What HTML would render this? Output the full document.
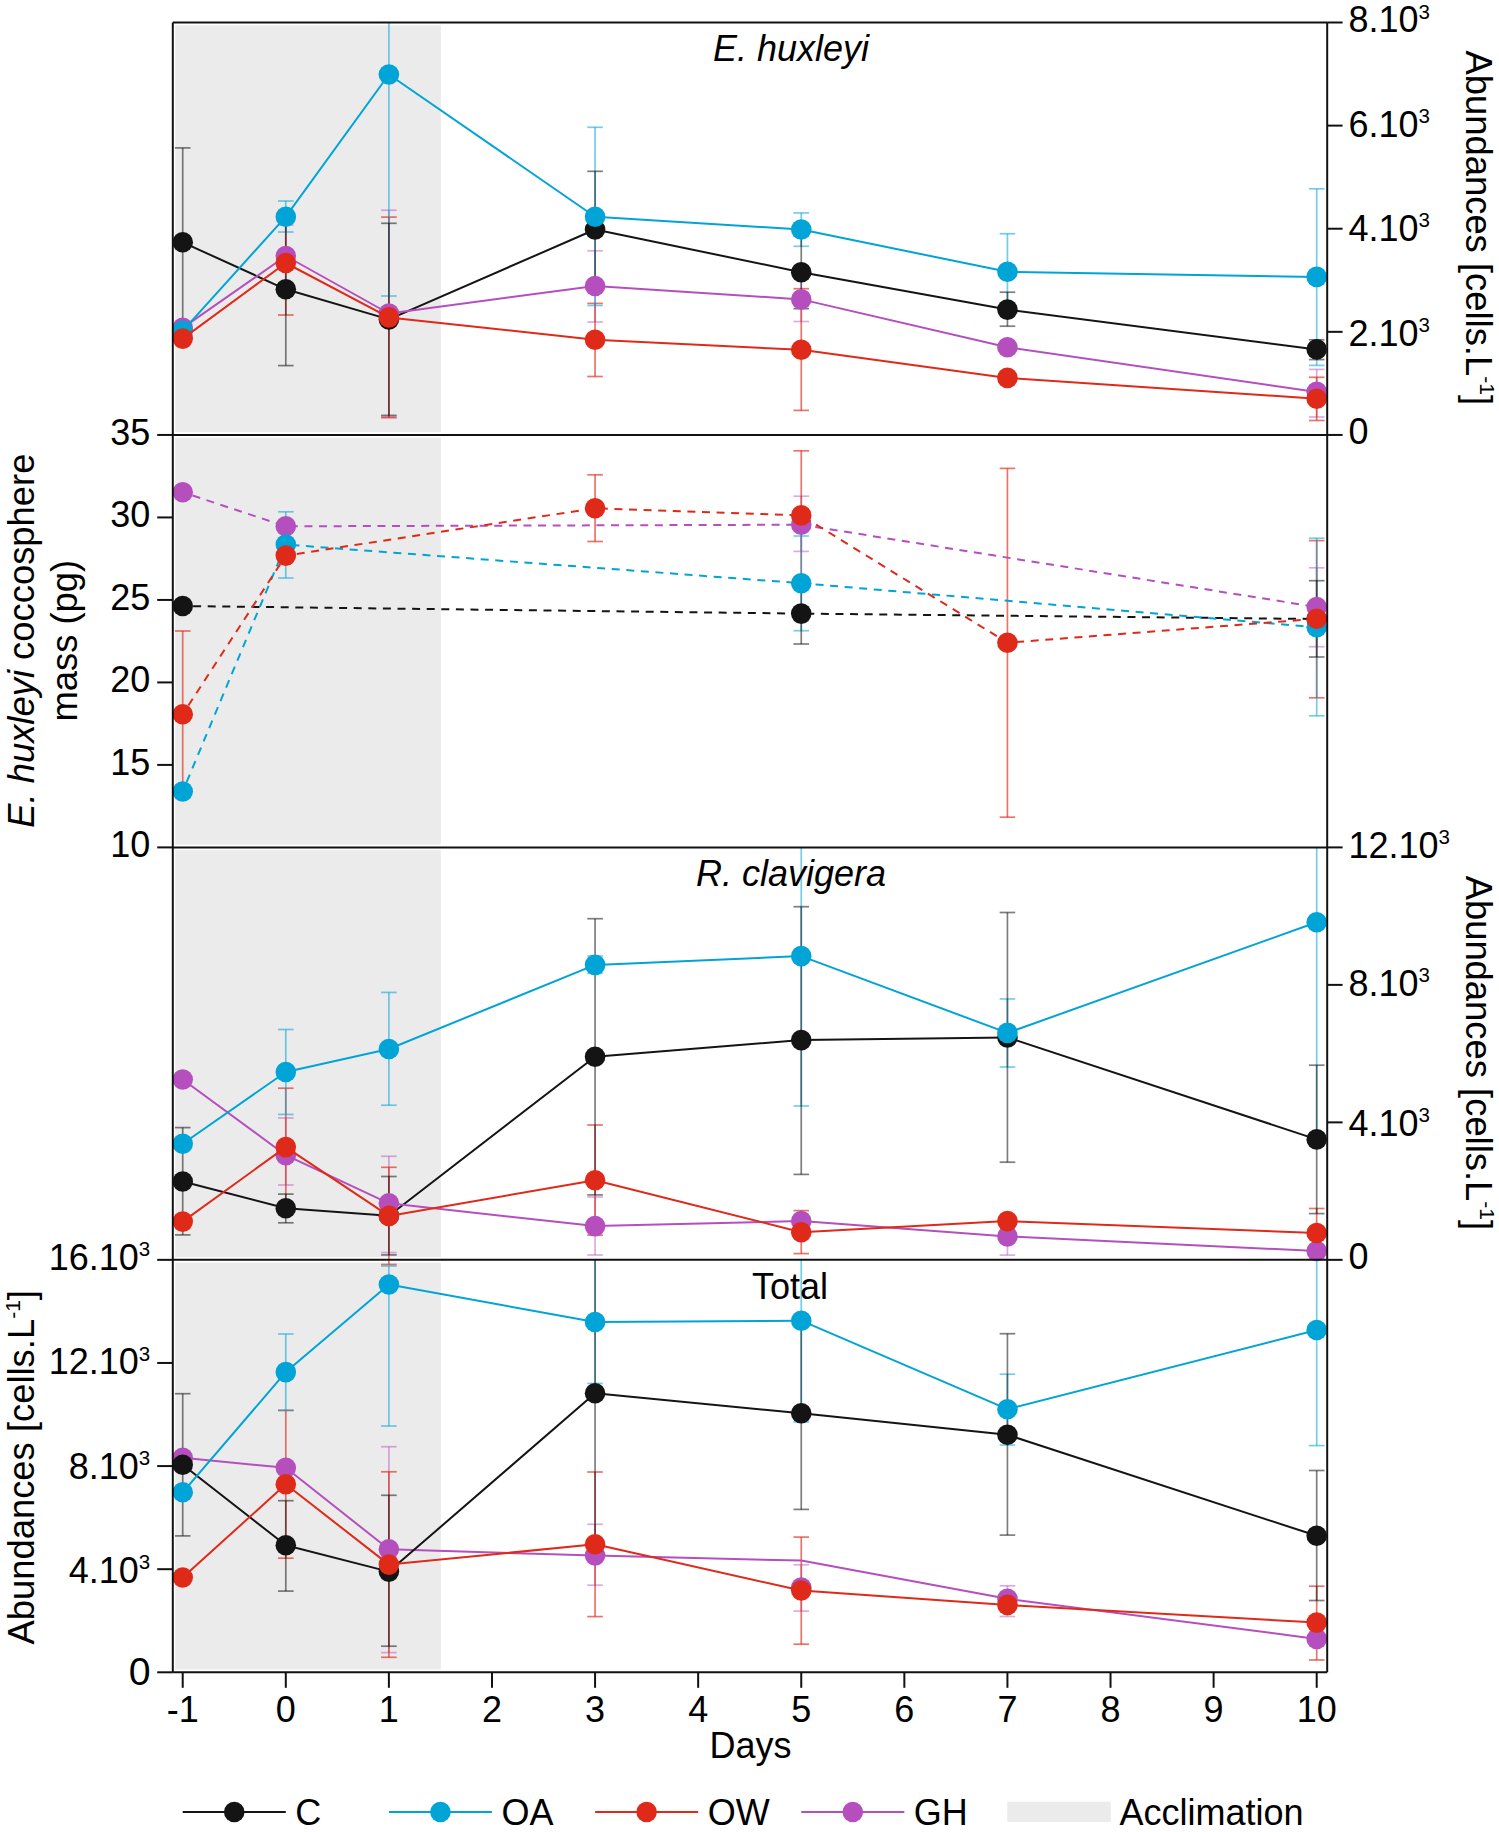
<!DOCTYPE html>
<html><head><meta charset="utf-8"><style>
html,body{margin:0;padding:0;background:#fff;width:1499px;height:1832px;overflow:hidden}
svg{display:block}
text{font-family:"Liberation Sans",sans-serif}
</style></head><body>
<svg width="1499" height="1832" viewBox="0 0 1499 1832">
<rect x="0" y="0" width="1499" height="1832" fill="#ffffff"/>
<rect x="175.2" y="25.30" width="265.70" height="406.85" fill="#ebebeb"/>
<rect x="175.2" y="437.75" width="265.70" height="406.85" fill="#ebebeb"/>
<rect x="175.2" y="850.20" width="265.70" height="406.85" fill="#ebebeb"/>
<rect x="175.2" y="1262.65" width="265.70" height="406.85" fill="#ebebeb"/>
<line x1="285.80" y1="225.00" x2="285.80" y2="287.00" stroke="#b54fbe" stroke-opacity="0.48" stroke-width="1.7"/>
<line x1="278.00" y1="225.00" x2="293.60" y2="225.00" stroke="#b54fbe" stroke-opacity="0.48" stroke-width="1.7"/>
<line x1="278.00" y1="287.00" x2="293.60" y2="287.00" stroke="#b54fbe" stroke-opacity="0.48" stroke-width="1.7"/>
<line x1="388.89" y1="210.20" x2="388.89" y2="416.80" stroke="#b54fbe" stroke-opacity="0.48" stroke-width="1.7"/>
<line x1="381.09" y1="210.20" x2="396.69" y2="210.20" stroke="#b54fbe" stroke-opacity="0.48" stroke-width="1.7"/>
<line x1="381.09" y1="416.80" x2="396.69" y2="416.80" stroke="#b54fbe" stroke-opacity="0.48" stroke-width="1.7"/>
<line x1="595.07" y1="250.80" x2="595.07" y2="322.00" stroke="#b54fbe" stroke-opacity="0.48" stroke-width="1.7"/>
<line x1="587.27" y1="250.80" x2="602.87" y2="250.80" stroke="#b54fbe" stroke-opacity="0.48" stroke-width="1.7"/>
<line x1="587.27" y1="322.00" x2="602.87" y2="322.00" stroke="#b54fbe" stroke-opacity="0.48" stroke-width="1.7"/>
<line x1="801.25" y1="277.30" x2="801.25" y2="321.50" stroke="#b54fbe" stroke-opacity="0.48" stroke-width="1.7"/>
<line x1="793.45" y1="277.30" x2="809.05" y2="277.30" stroke="#b54fbe" stroke-opacity="0.48" stroke-width="1.7"/>
<line x1="793.45" y1="321.50" x2="809.05" y2="321.50" stroke="#b54fbe" stroke-opacity="0.48" stroke-width="1.7"/>
<line x1="1316.70" y1="369.40" x2="1316.70" y2="417.00" stroke="#b54fbe" stroke-opacity="0.48" stroke-width="1.7"/>
<line x1="1308.90" y1="369.40" x2="1324.50" y2="369.40" stroke="#b54fbe" stroke-opacity="0.48" stroke-width="1.7"/>
<line x1="1308.90" y1="417.00" x2="1324.50" y2="417.00" stroke="#b54fbe" stroke-opacity="0.48" stroke-width="1.7"/>
<line x1="285.80" y1="211.00" x2="285.80" y2="315.00" stroke="#df2a19" stroke-opacity="0.65" stroke-width="1.7"/>
<line x1="278.00" y1="211.00" x2="293.60" y2="211.00" stroke="#df2a19" stroke-opacity="0.65" stroke-width="1.7"/>
<line x1="278.00" y1="315.00" x2="293.60" y2="315.00" stroke="#df2a19" stroke-opacity="0.65" stroke-width="1.7"/>
<line x1="388.89" y1="217.10" x2="388.89" y2="417.70" stroke="#df2a19" stroke-opacity="0.65" stroke-width="1.7"/>
<line x1="381.09" y1="217.10" x2="396.69" y2="217.10" stroke="#df2a19" stroke-opacity="0.65" stroke-width="1.7"/>
<line x1="381.09" y1="417.70" x2="396.69" y2="417.70" stroke="#df2a19" stroke-opacity="0.65" stroke-width="1.7"/>
<line x1="595.07" y1="303.40" x2="595.07" y2="376.50" stroke="#df2a19" stroke-opacity="0.65" stroke-width="1.7"/>
<line x1="587.27" y1="303.40" x2="602.87" y2="303.40" stroke="#df2a19" stroke-opacity="0.65" stroke-width="1.7"/>
<line x1="587.27" y1="376.50" x2="602.87" y2="376.50" stroke="#df2a19" stroke-opacity="0.65" stroke-width="1.7"/>
<line x1="801.25" y1="288.70" x2="801.25" y2="410.40" stroke="#df2a19" stroke-opacity="0.65" stroke-width="1.7"/>
<line x1="793.45" y1="288.70" x2="809.05" y2="288.70" stroke="#df2a19" stroke-opacity="0.65" stroke-width="1.7"/>
<line x1="793.45" y1="410.40" x2="809.05" y2="410.40" stroke="#df2a19" stroke-opacity="0.65" stroke-width="1.7"/>
<line x1="1316.70" y1="377.30" x2="1316.70" y2="420.50" stroke="#df2a19" stroke-opacity="0.65" stroke-width="1.7"/>
<line x1="1308.90" y1="377.30" x2="1324.50" y2="377.30" stroke="#df2a19" stroke-opacity="0.65" stroke-width="1.7"/>
<line x1="1308.90" y1="420.50" x2="1324.50" y2="420.50" stroke="#df2a19" stroke-opacity="0.65" stroke-width="1.7"/>
<line x1="285.80" y1="201.00" x2="285.80" y2="232.00" stroke="#00a4d6" stroke-opacity="0.55" stroke-width="1.7"/>
<line x1="278.00" y1="201.00" x2="293.60" y2="201.00" stroke="#00a4d6" stroke-opacity="0.55" stroke-width="1.7"/>
<line x1="278.00" y1="232.00" x2="293.60" y2="232.00" stroke="#00a4d6" stroke-opacity="0.55" stroke-width="1.7"/>
<line x1="388.89" y1="22.50" x2="388.89" y2="296.00" stroke="#00a4d6" stroke-opacity="0.55" stroke-width="1.7"/>
<line x1="381.09" y1="296.00" x2="396.69" y2="296.00" stroke="#00a4d6" stroke-opacity="0.55" stroke-width="1.7"/>
<line x1="595.07" y1="127.30" x2="595.07" y2="305.50" stroke="#00a4d6" stroke-opacity="0.55" stroke-width="1.7"/>
<line x1="587.27" y1="127.30" x2="602.87" y2="127.30" stroke="#00a4d6" stroke-opacity="0.55" stroke-width="1.7"/>
<line x1="587.27" y1="305.50" x2="602.87" y2="305.50" stroke="#00a4d6" stroke-opacity="0.55" stroke-width="1.7"/>
<line x1="801.25" y1="212.90" x2="801.25" y2="246.30" stroke="#00a4d6" stroke-opacity="0.55" stroke-width="1.7"/>
<line x1="793.45" y1="212.90" x2="809.05" y2="212.90" stroke="#00a4d6" stroke-opacity="0.55" stroke-width="1.7"/>
<line x1="793.45" y1="246.30" x2="809.05" y2="246.30" stroke="#00a4d6" stroke-opacity="0.55" stroke-width="1.7"/>
<line x1="1007.43" y1="233.70" x2="1007.43" y2="309.90" stroke="#00a4d6" stroke-opacity="0.55" stroke-width="1.7"/>
<line x1="999.63" y1="233.70" x2="1015.23" y2="233.70" stroke="#00a4d6" stroke-opacity="0.55" stroke-width="1.7"/>
<line x1="999.63" y1="309.90" x2="1015.23" y2="309.90" stroke="#00a4d6" stroke-opacity="0.55" stroke-width="1.7"/>
<line x1="1316.70" y1="188.80" x2="1316.70" y2="365.40" stroke="#00a4d6" stroke-opacity="0.55" stroke-width="1.7"/>
<line x1="1308.90" y1="188.80" x2="1324.50" y2="188.80" stroke="#00a4d6" stroke-opacity="0.55" stroke-width="1.7"/>
<line x1="1308.90" y1="365.40" x2="1324.50" y2="365.40" stroke="#00a4d6" stroke-opacity="0.55" stroke-width="1.7"/>
<line x1="182.71" y1="147.90" x2="182.71" y2="336.70" stroke="#141414" stroke-opacity="0.55" stroke-width="1.7"/>
<line x1="174.91" y1="147.90" x2="190.51" y2="147.90" stroke="#141414" stroke-opacity="0.55" stroke-width="1.7"/>
<line x1="174.91" y1="336.70" x2="190.51" y2="336.70" stroke="#141414" stroke-opacity="0.55" stroke-width="1.7"/>
<line x1="285.80" y1="212.70" x2="285.80" y2="365.60" stroke="#141414" stroke-opacity="0.55" stroke-width="1.7"/>
<line x1="278.00" y1="212.70" x2="293.60" y2="212.70" stroke="#141414" stroke-opacity="0.55" stroke-width="1.7"/>
<line x1="278.00" y1="365.60" x2="293.60" y2="365.60" stroke="#141414" stroke-opacity="0.55" stroke-width="1.7"/>
<line x1="388.89" y1="223.30" x2="388.89" y2="415.40" stroke="#141414" stroke-opacity="0.55" stroke-width="1.7"/>
<line x1="381.09" y1="223.30" x2="396.69" y2="223.30" stroke="#141414" stroke-opacity="0.55" stroke-width="1.7"/>
<line x1="381.09" y1="415.40" x2="396.69" y2="415.40" stroke="#141414" stroke-opacity="0.55" stroke-width="1.7"/>
<line x1="595.07" y1="171.30" x2="595.07" y2="287.70" stroke="#141414" stroke-opacity="0.55" stroke-width="1.7"/>
<line x1="587.27" y1="171.30" x2="602.87" y2="171.30" stroke="#141414" stroke-opacity="0.55" stroke-width="1.7"/>
<line x1="587.27" y1="287.70" x2="602.87" y2="287.70" stroke="#141414" stroke-opacity="0.55" stroke-width="1.7"/>
<line x1="801.25" y1="235.70" x2="801.25" y2="308.70" stroke="#141414" stroke-opacity="0.55" stroke-width="1.7"/>
<line x1="793.45" y1="235.70" x2="809.05" y2="235.70" stroke="#141414" stroke-opacity="0.55" stroke-width="1.7"/>
<line x1="793.45" y1="308.70" x2="809.05" y2="308.70" stroke="#141414" stroke-opacity="0.55" stroke-width="1.7"/>
<line x1="1007.43" y1="292.20" x2="1007.43" y2="326.20" stroke="#141414" stroke-opacity="0.55" stroke-width="1.7"/>
<line x1="999.63" y1="292.20" x2="1015.23" y2="292.20" stroke="#141414" stroke-opacity="0.55" stroke-width="1.7"/>
<line x1="999.63" y1="326.20" x2="1015.23" y2="326.20" stroke="#141414" stroke-opacity="0.55" stroke-width="1.7"/>
<line x1="1316.70" y1="339.80" x2="1316.70" y2="359.60" stroke="#141414" stroke-opacity="0.55" stroke-width="1.7"/>
<line x1="1308.90" y1="339.80" x2="1324.50" y2="339.80" stroke="#141414" stroke-opacity="0.55" stroke-width="1.7"/>
<line x1="1308.90" y1="359.60" x2="1324.50" y2="359.60" stroke="#141414" stroke-opacity="0.55" stroke-width="1.7"/>
<polyline points="182.71,242.30 285.80,289.30 388.89,319.40 595.07,229.50 801.25,272.20 1007.43,309.60 1316.70,349.40" fill="none" stroke="#141414" stroke-width="2.0" stroke-linejoin="round"/>
<circle cx="182.71" cy="242.30" r="10.3" fill="#141414"/>
<circle cx="285.80" cy="289.30" r="10.3" fill="#141414"/>
<circle cx="388.89" cy="319.40" r="10.3" fill="#141414"/>
<circle cx="595.07" cy="229.50" r="10.3" fill="#141414"/>
<circle cx="801.25" cy="272.20" r="10.3" fill="#141414"/>
<circle cx="1007.43" cy="309.60" r="10.3" fill="#141414"/>
<circle cx="1316.70" cy="349.40" r="10.3" fill="#141414"/>
<polyline points="182.71,327.90 285.80,256.00 388.89,313.50 595.07,286.00 801.25,299.40 1007.43,347.30 1316.70,391.90" fill="none" stroke="#b54fbe" stroke-width="2.0" stroke-linejoin="round"/>
<circle cx="182.71" cy="327.90" r="10.3" fill="#b54fbe"/>
<circle cx="285.80" cy="256.00" r="10.3" fill="#b54fbe"/>
<circle cx="388.89" cy="313.50" r="10.3" fill="#b54fbe"/>
<circle cx="595.07" cy="286.00" r="10.3" fill="#b54fbe"/>
<circle cx="801.25" cy="299.40" r="10.3" fill="#b54fbe"/>
<circle cx="1007.43" cy="347.30" r="10.3" fill="#b54fbe"/>
<circle cx="1316.70" cy="391.90" r="10.3" fill="#b54fbe"/>
<polyline points="182.71,330.90 285.80,216.70 388.89,74.50 595.07,216.70 801.25,229.50 1007.43,271.80 1316.70,276.90" fill="none" stroke="#00a4d6" stroke-width="2.0" stroke-linejoin="round"/>
<circle cx="182.71" cy="330.90" r="10.3" fill="#00a4d6"/>
<circle cx="285.80" cy="216.70" r="10.3" fill="#00a4d6"/>
<circle cx="388.89" cy="74.50" r="10.3" fill="#00a4d6"/>
<circle cx="595.07" cy="216.70" r="10.3" fill="#00a4d6"/>
<circle cx="801.25" cy="229.50" r="10.3" fill="#00a4d6"/>
<circle cx="1007.43" cy="271.80" r="10.3" fill="#00a4d6"/>
<circle cx="1316.70" cy="276.90" r="10.3" fill="#00a4d6"/>
<polyline points="182.71,338.60 285.80,263.00 388.89,317.40 595.07,339.70 801.25,349.80 1007.43,377.90 1316.70,398.70" fill="none" stroke="#df2a19" stroke-width="2.0" stroke-linejoin="round"/>
<circle cx="182.71" cy="338.60" r="10.3" fill="#df2a19"/>
<circle cx="285.80" cy="263.00" r="10.3" fill="#df2a19"/>
<circle cx="388.89" cy="317.40" r="10.3" fill="#df2a19"/>
<circle cx="595.07" cy="339.70" r="10.3" fill="#df2a19"/>
<circle cx="801.25" cy="349.80" r="10.3" fill="#df2a19"/>
<circle cx="1007.43" cy="377.90" r="10.3" fill="#df2a19"/>
<circle cx="1316.70" cy="398.70" r="10.3" fill="#df2a19"/>
<line x1="801.25" y1="496.20" x2="801.25" y2="551.40" stroke="#b54fbe" stroke-opacity="0.48" stroke-width="1.7"/>
<line x1="793.45" y1="496.20" x2="809.05" y2="496.20" stroke="#b54fbe" stroke-opacity="0.48" stroke-width="1.7"/>
<line x1="793.45" y1="551.40" x2="809.05" y2="551.40" stroke="#b54fbe" stroke-opacity="0.48" stroke-width="1.7"/>
<line x1="1316.70" y1="567.80" x2="1316.70" y2="646.70" stroke="#b54fbe" stroke-opacity="0.48" stroke-width="1.7"/>
<line x1="1308.90" y1="567.80" x2="1324.50" y2="567.80" stroke="#b54fbe" stroke-opacity="0.48" stroke-width="1.7"/>
<line x1="1308.90" y1="646.70" x2="1324.50" y2="646.70" stroke="#b54fbe" stroke-opacity="0.48" stroke-width="1.7"/>
<line x1="182.71" y1="631.00" x2="182.71" y2="797.40" stroke="#df2a19" stroke-opacity="0.65" stroke-width="1.7"/>
<line x1="174.91" y1="631.00" x2="190.51" y2="631.00" stroke="#df2a19" stroke-opacity="0.65" stroke-width="1.7"/>
<line x1="174.91" y1="797.40" x2="190.51" y2="797.40" stroke="#df2a19" stroke-opacity="0.65" stroke-width="1.7"/>
<line x1="595.07" y1="474.80" x2="595.07" y2="541.50" stroke="#df2a19" stroke-opacity="0.65" stroke-width="1.7"/>
<line x1="587.27" y1="474.80" x2="602.87" y2="474.80" stroke="#df2a19" stroke-opacity="0.65" stroke-width="1.7"/>
<line x1="587.27" y1="541.50" x2="602.87" y2="541.50" stroke="#df2a19" stroke-opacity="0.65" stroke-width="1.7"/>
<line x1="801.25" y1="450.80" x2="801.25" y2="580.00" stroke="#df2a19" stroke-opacity="0.65" stroke-width="1.7"/>
<line x1="793.45" y1="450.80" x2="809.05" y2="450.80" stroke="#df2a19" stroke-opacity="0.65" stroke-width="1.7"/>
<line x1="793.45" y1="580.00" x2="809.05" y2="580.00" stroke="#df2a19" stroke-opacity="0.65" stroke-width="1.7"/>
<line x1="1007.43" y1="468.40" x2="1007.43" y2="817.20" stroke="#df2a19" stroke-opacity="0.65" stroke-width="1.7"/>
<line x1="999.63" y1="468.40" x2="1015.23" y2="468.40" stroke="#df2a19" stroke-opacity="0.65" stroke-width="1.7"/>
<line x1="999.63" y1="817.20" x2="1015.23" y2="817.20" stroke="#df2a19" stroke-opacity="0.65" stroke-width="1.7"/>
<line x1="1316.70" y1="540.60" x2="1316.70" y2="697.80" stroke="#df2a19" stroke-opacity="0.65" stroke-width="1.7"/>
<line x1="1308.90" y1="540.60" x2="1324.50" y2="540.60" stroke="#df2a19" stroke-opacity="0.65" stroke-width="1.7"/>
<line x1="1308.90" y1="697.80" x2="1324.50" y2="697.80" stroke="#df2a19" stroke-opacity="0.65" stroke-width="1.7"/>
<line x1="285.80" y1="511.80" x2="285.80" y2="578.00" stroke="#00a4d6" stroke-opacity="0.55" stroke-width="1.7"/>
<line x1="278.00" y1="511.80" x2="293.60" y2="511.80" stroke="#00a4d6" stroke-opacity="0.55" stroke-width="1.7"/>
<line x1="278.00" y1="578.00" x2="293.60" y2="578.00" stroke="#00a4d6" stroke-opacity="0.55" stroke-width="1.7"/>
<line x1="801.25" y1="536.00" x2="801.25" y2="630.70" stroke="#00a4d6" stroke-opacity="0.55" stroke-width="1.7"/>
<line x1="793.45" y1="536.00" x2="809.05" y2="536.00" stroke="#00a4d6" stroke-opacity="0.55" stroke-width="1.7"/>
<line x1="793.45" y1="630.70" x2="809.05" y2="630.70" stroke="#00a4d6" stroke-opacity="0.55" stroke-width="1.7"/>
<line x1="1316.70" y1="538.20" x2="1316.70" y2="715.80" stroke="#00a4d6" stroke-opacity="0.55" stroke-width="1.7"/>
<line x1="1308.90" y1="538.20" x2="1324.50" y2="538.20" stroke="#00a4d6" stroke-opacity="0.55" stroke-width="1.7"/>
<line x1="1308.90" y1="715.80" x2="1324.50" y2="715.80" stroke="#00a4d6" stroke-opacity="0.55" stroke-width="1.7"/>
<line x1="801.25" y1="583.20" x2="801.25" y2="644.00" stroke="#141414" stroke-opacity="0.55" stroke-width="1.7"/>
<line x1="793.45" y1="583.20" x2="809.05" y2="583.20" stroke="#141414" stroke-opacity="0.55" stroke-width="1.7"/>
<line x1="793.45" y1="644.00" x2="809.05" y2="644.00" stroke="#141414" stroke-opacity="0.55" stroke-width="1.7"/>
<line x1="1316.70" y1="580.70" x2="1316.70" y2="657.00" stroke="#141414" stroke-opacity="0.55" stroke-width="1.7"/>
<line x1="1308.90" y1="580.70" x2="1324.50" y2="580.70" stroke="#141414" stroke-opacity="0.55" stroke-width="1.7"/>
<line x1="1308.90" y1="657.00" x2="1324.50" y2="657.00" stroke="#141414" stroke-opacity="0.55" stroke-width="1.7"/>
<polyline points="182.71,606.00 801.25,613.60 1316.70,619.00" fill="none" stroke="#141414" stroke-width="2.0" stroke-linejoin="round" stroke-dasharray="8 6.6" stroke-dashoffset="4.2"/>
<circle cx="182.71" cy="606.00" r="10.3" fill="#141414"/>
<circle cx="801.25" cy="613.60" r="10.3" fill="#141414"/>
<circle cx="1316.70" cy="619.00" r="10.3" fill="#141414"/>
<polyline points="182.71,492.30 285.80,526.30 801.25,524.70 1316.70,607.00" fill="none" stroke="#b54fbe" stroke-width="2.0" stroke-linejoin="round" stroke-dasharray="8 6.6" stroke-dashoffset="4.2"/>
<circle cx="182.71" cy="492.30" r="10.3" fill="#b54fbe"/>
<circle cx="285.80" cy="526.30" r="10.3" fill="#b54fbe"/>
<circle cx="801.25" cy="524.70" r="10.3" fill="#b54fbe"/>
<circle cx="1316.70" cy="607.00" r="10.3" fill="#b54fbe"/>
<polyline points="182.71,791.50 285.80,544.60 801.25,583.20 1316.70,627.30" fill="none" stroke="#00a4d6" stroke-width="2.0" stroke-linejoin="round" stroke-dasharray="8 6.6" stroke-dashoffset="4.2"/>
<circle cx="182.71" cy="791.50" r="10.3" fill="#00a4d6"/>
<circle cx="285.80" cy="544.60" r="10.3" fill="#00a4d6"/>
<circle cx="801.25" cy="583.20" r="10.3" fill="#00a4d6"/>
<circle cx="1316.70" cy="627.30" r="10.3" fill="#00a4d6"/>
<polyline points="182.71,714.20 285.80,555.60 595.07,508.20 801.25,515.40 1007.43,642.70 1316.70,618.80" fill="none" stroke="#df2a19" stroke-width="2.0" stroke-linejoin="round" stroke-dasharray="8 6.6" stroke-dashoffset="4.2"/>
<circle cx="182.71" cy="714.20" r="10.3" fill="#df2a19"/>
<circle cx="285.80" cy="555.60" r="10.3" fill="#df2a19"/>
<circle cx="595.07" cy="508.20" r="10.3" fill="#df2a19"/>
<circle cx="801.25" cy="515.40" r="10.3" fill="#df2a19"/>
<circle cx="1007.43" cy="642.70" r="10.3" fill="#df2a19"/>
<circle cx="1316.70" cy="618.80" r="10.3" fill="#df2a19"/>
<line x1="285.80" y1="1118.00" x2="285.80" y2="1185.00" stroke="#b54fbe" stroke-opacity="0.48" stroke-width="1.7"/>
<line x1="278.00" y1="1118.00" x2="293.60" y2="1118.00" stroke="#b54fbe" stroke-opacity="0.48" stroke-width="1.7"/>
<line x1="278.00" y1="1185.00" x2="293.60" y2="1185.00" stroke="#b54fbe" stroke-opacity="0.48" stroke-width="1.7"/>
<line x1="388.89" y1="1156.30" x2="388.89" y2="1252.60" stroke="#b54fbe" stroke-opacity="0.48" stroke-width="1.7"/>
<line x1="381.09" y1="1156.30" x2="396.69" y2="1156.30" stroke="#b54fbe" stroke-opacity="0.48" stroke-width="1.7"/>
<line x1="381.09" y1="1252.60" x2="396.69" y2="1252.60" stroke="#b54fbe" stroke-opacity="0.48" stroke-width="1.7"/>
<line x1="595.07" y1="1197.00" x2="595.07" y2="1255.00" stroke="#b54fbe" stroke-opacity="0.48" stroke-width="1.7"/>
<line x1="587.27" y1="1197.00" x2="602.87" y2="1197.00" stroke="#b54fbe" stroke-opacity="0.48" stroke-width="1.7"/>
<line x1="587.27" y1="1255.00" x2="602.87" y2="1255.00" stroke="#b54fbe" stroke-opacity="0.48" stroke-width="1.7"/>
<line x1="1007.43" y1="1217.70" x2="1007.43" y2="1255.10" stroke="#b54fbe" stroke-opacity="0.48" stroke-width="1.7"/>
<line x1="999.63" y1="1217.70" x2="1015.23" y2="1217.70" stroke="#b54fbe" stroke-opacity="0.48" stroke-width="1.7"/>
<line x1="999.63" y1="1255.10" x2="1015.23" y2="1255.10" stroke="#b54fbe" stroke-opacity="0.48" stroke-width="1.7"/>
<line x1="285.80" y1="1088.20" x2="285.80" y2="1206.00" stroke="#df2a19" stroke-opacity="0.65" stroke-width="1.7"/>
<line x1="278.00" y1="1088.20" x2="293.60" y2="1088.20" stroke="#df2a19" stroke-opacity="0.65" stroke-width="1.7"/>
<line x1="278.00" y1="1206.00" x2="293.60" y2="1206.00" stroke="#df2a19" stroke-opacity="0.65" stroke-width="1.7"/>
<line x1="388.89" y1="1167.30" x2="388.89" y2="1264.50" stroke="#df2a19" stroke-opacity="0.65" stroke-width="1.7"/>
<line x1="381.09" y1="1167.30" x2="396.69" y2="1167.30" stroke="#df2a19" stroke-opacity="0.65" stroke-width="1.7"/>
<line x1="381.09" y1="1264.50" x2="396.69" y2="1264.50" stroke="#df2a19" stroke-opacity="0.65" stroke-width="1.7"/>
<line x1="595.07" y1="1125.00" x2="595.07" y2="1235.20" stroke="#df2a19" stroke-opacity="0.65" stroke-width="1.7"/>
<line x1="587.27" y1="1125.00" x2="602.87" y2="1125.00" stroke="#df2a19" stroke-opacity="0.65" stroke-width="1.7"/>
<line x1="587.27" y1="1235.20" x2="602.87" y2="1235.20" stroke="#df2a19" stroke-opacity="0.65" stroke-width="1.7"/>
<line x1="801.25" y1="1210.60" x2="801.25" y2="1253.60" stroke="#df2a19" stroke-opacity="0.65" stroke-width="1.7"/>
<line x1="793.45" y1="1210.60" x2="809.05" y2="1210.60" stroke="#df2a19" stroke-opacity="0.65" stroke-width="1.7"/>
<line x1="793.45" y1="1253.60" x2="809.05" y2="1253.60" stroke="#df2a19" stroke-opacity="0.65" stroke-width="1.7"/>
<line x1="1316.70" y1="1208.50" x2="1316.70" y2="1257.50" stroke="#df2a19" stroke-opacity="0.65" stroke-width="1.7"/>
<line x1="1308.90" y1="1208.50" x2="1324.50" y2="1208.50" stroke="#df2a19" stroke-opacity="0.65" stroke-width="1.7"/>
<line x1="1308.90" y1="1257.50" x2="1324.50" y2="1257.50" stroke="#df2a19" stroke-opacity="0.65" stroke-width="1.7"/>
<line x1="285.80" y1="1029.50" x2="285.80" y2="1114.40" stroke="#00a4d6" stroke-opacity="0.55" stroke-width="1.7"/>
<line x1="278.00" y1="1029.50" x2="293.60" y2="1029.50" stroke="#00a4d6" stroke-opacity="0.55" stroke-width="1.7"/>
<line x1="278.00" y1="1114.40" x2="293.60" y2="1114.40" stroke="#00a4d6" stroke-opacity="0.55" stroke-width="1.7"/>
<line x1="388.89" y1="992.40" x2="388.89" y2="1105.20" stroke="#00a4d6" stroke-opacity="0.55" stroke-width="1.7"/>
<line x1="381.09" y1="992.40" x2="396.69" y2="992.40" stroke="#00a4d6" stroke-opacity="0.55" stroke-width="1.7"/>
<line x1="381.09" y1="1105.20" x2="396.69" y2="1105.20" stroke="#00a4d6" stroke-opacity="0.55" stroke-width="1.7"/>
<line x1="595.07" y1="956.00" x2="595.07" y2="973.40" stroke="#00a4d6" stroke-opacity="0.55" stroke-width="1.7"/>
<line x1="587.27" y1="956.00" x2="602.87" y2="956.00" stroke="#00a4d6" stroke-opacity="0.55" stroke-width="1.7"/>
<line x1="587.27" y1="973.40" x2="602.87" y2="973.40" stroke="#00a4d6" stroke-opacity="0.55" stroke-width="1.7"/>
<line x1="801.25" y1="847.40" x2="801.25" y2="1106.00" stroke="#00a4d6" stroke-opacity="0.55" stroke-width="1.7"/>
<line x1="793.45" y1="1106.00" x2="809.05" y2="1106.00" stroke="#00a4d6" stroke-opacity="0.55" stroke-width="1.7"/>
<line x1="1007.43" y1="998.90" x2="1007.43" y2="1067.00" stroke="#00a4d6" stroke-opacity="0.55" stroke-width="1.7"/>
<line x1="999.63" y1="998.90" x2="1015.23" y2="998.90" stroke="#00a4d6" stroke-opacity="0.55" stroke-width="1.7"/>
<line x1="999.63" y1="1067.00" x2="1015.23" y2="1067.00" stroke="#00a4d6" stroke-opacity="0.55" stroke-width="1.7"/>
<line x1="1316.70" y1="847.40" x2="1316.70" y2="1138.00" stroke="#00a4d6" stroke-opacity="0.55" stroke-width="1.7"/>
<line x1="1308.90" y1="1138.00" x2="1324.50" y2="1138.00" stroke="#00a4d6" stroke-opacity="0.55" stroke-width="1.7"/>
<line x1="182.71" y1="1127.60" x2="182.71" y2="1234.90" stroke="#141414" stroke-opacity="0.55" stroke-width="1.7"/>
<line x1="174.91" y1="1127.60" x2="190.51" y2="1127.60" stroke="#141414" stroke-opacity="0.55" stroke-width="1.7"/>
<line x1="174.91" y1="1234.90" x2="190.51" y2="1234.90" stroke="#141414" stroke-opacity="0.55" stroke-width="1.7"/>
<line x1="285.80" y1="1194.10" x2="285.80" y2="1222.80" stroke="#141414" stroke-opacity="0.55" stroke-width="1.7"/>
<line x1="278.00" y1="1194.10" x2="293.60" y2="1194.10" stroke="#141414" stroke-opacity="0.55" stroke-width="1.7"/>
<line x1="278.00" y1="1222.80" x2="293.60" y2="1222.80" stroke="#141414" stroke-opacity="0.55" stroke-width="1.7"/>
<line x1="388.89" y1="1176.50" x2="388.89" y2="1254.90" stroke="#141414" stroke-opacity="0.55" stroke-width="1.7"/>
<line x1="381.09" y1="1176.50" x2="396.69" y2="1176.50" stroke="#141414" stroke-opacity="0.55" stroke-width="1.7"/>
<line x1="381.09" y1="1254.90" x2="396.69" y2="1254.90" stroke="#141414" stroke-opacity="0.55" stroke-width="1.7"/>
<line x1="595.07" y1="918.70" x2="595.07" y2="1194.90" stroke="#141414" stroke-opacity="0.55" stroke-width="1.7"/>
<line x1="587.27" y1="918.70" x2="602.87" y2="918.70" stroke="#141414" stroke-opacity="0.55" stroke-width="1.7"/>
<line x1="587.27" y1="1194.90" x2="602.87" y2="1194.90" stroke="#141414" stroke-opacity="0.55" stroke-width="1.7"/>
<line x1="801.25" y1="906.70" x2="801.25" y2="1174.40" stroke="#141414" stroke-opacity="0.55" stroke-width="1.7"/>
<line x1="793.45" y1="906.70" x2="809.05" y2="906.70" stroke="#141414" stroke-opacity="0.55" stroke-width="1.7"/>
<line x1="793.45" y1="1174.40" x2="809.05" y2="1174.40" stroke="#141414" stroke-opacity="0.55" stroke-width="1.7"/>
<line x1="1007.43" y1="912.50" x2="1007.43" y2="1162.20" stroke="#141414" stroke-opacity="0.55" stroke-width="1.7"/>
<line x1="999.63" y1="912.50" x2="1015.23" y2="912.50" stroke="#141414" stroke-opacity="0.55" stroke-width="1.7"/>
<line x1="999.63" y1="1162.20" x2="1015.23" y2="1162.20" stroke="#141414" stroke-opacity="0.55" stroke-width="1.7"/>
<line x1="1316.70" y1="1065.20" x2="1316.70" y2="1213.60" stroke="#141414" stroke-opacity="0.55" stroke-width="1.7"/>
<line x1="1308.90" y1="1065.20" x2="1324.50" y2="1065.20" stroke="#141414" stroke-opacity="0.55" stroke-width="1.7"/>
<line x1="1308.90" y1="1213.60" x2="1324.50" y2="1213.60" stroke="#141414" stroke-opacity="0.55" stroke-width="1.7"/>
<polyline points="182.71,1181.50 285.80,1208.30 388.89,1215.70 595.07,1056.70 801.25,1040.10 1007.43,1037.40 1316.70,1139.40" fill="none" stroke="#141414" stroke-width="2.0" stroke-linejoin="round"/>
<circle cx="182.71" cy="1181.50" r="10.3" fill="#141414"/>
<circle cx="285.80" cy="1208.30" r="10.3" fill="#141414"/>
<circle cx="388.89" cy="1215.70" r="10.3" fill="#141414"/>
<circle cx="595.07" cy="1056.70" r="10.3" fill="#141414"/>
<circle cx="801.25" cy="1040.10" r="10.3" fill="#141414"/>
<circle cx="1007.43" cy="1037.40" r="10.3" fill="#141414"/>
<circle cx="1316.70" cy="1139.40" r="10.3" fill="#141414"/>
<polyline points="182.71,1079.50 285.80,1155.20 388.89,1203.30 595.07,1226.10 801.25,1221.00 1007.43,1236.40 1316.70,1251.00" fill="none" stroke="#b54fbe" stroke-width="2.0" stroke-linejoin="round"/>
<circle cx="182.71" cy="1079.50" r="10.3" fill="#b54fbe"/>
<circle cx="285.80" cy="1155.20" r="10.3" fill="#b54fbe"/>
<circle cx="388.89" cy="1203.30" r="10.3" fill="#b54fbe"/>
<circle cx="595.07" cy="1226.10" r="10.3" fill="#b54fbe"/>
<circle cx="801.25" cy="1221.00" r="10.3" fill="#b54fbe"/>
<circle cx="1007.43" cy="1236.40" r="10.3" fill="#b54fbe"/>
<circle cx="1316.70" cy="1251.00" r="10.3" fill="#b54fbe"/>
<polyline points="182.71,1143.70 285.80,1072.00 388.89,1049.00 595.07,964.90 801.25,956.10 1007.43,1032.90 1316.70,922.30" fill="none" stroke="#00a4d6" stroke-width="2.0" stroke-linejoin="round"/>
<circle cx="182.71" cy="1143.70" r="10.3" fill="#00a4d6"/>
<circle cx="285.80" cy="1072.00" r="10.3" fill="#00a4d6"/>
<circle cx="388.89" cy="1049.00" r="10.3" fill="#00a4d6"/>
<circle cx="595.07" cy="964.90" r="10.3" fill="#00a4d6"/>
<circle cx="801.25" cy="956.10" r="10.3" fill="#00a4d6"/>
<circle cx="1007.43" cy="1032.90" r="10.3" fill="#00a4d6"/>
<circle cx="1316.70" cy="922.30" r="10.3" fill="#00a4d6"/>
<polyline points="182.71,1221.60 285.80,1147.10 388.89,1215.90 595.07,1180.20 801.25,1232.20 1007.43,1221.10 1316.70,1233.00" fill="none" stroke="#df2a19" stroke-width="2.0" stroke-linejoin="round"/>
<circle cx="182.71" cy="1221.60" r="10.3" fill="#df2a19"/>
<circle cx="285.80" cy="1147.10" r="10.3" fill="#df2a19"/>
<circle cx="388.89" cy="1215.90" r="10.3" fill="#df2a19"/>
<circle cx="595.07" cy="1180.20" r="10.3" fill="#df2a19"/>
<circle cx="801.25" cy="1232.20" r="10.3" fill="#df2a19"/>
<circle cx="1007.43" cy="1221.10" r="10.3" fill="#df2a19"/>
<circle cx="1316.70" cy="1233.00" r="10.3" fill="#df2a19"/>
<line x1="388.89" y1="1446.70" x2="388.89" y2="1652.60" stroke="#b54fbe" stroke-opacity="0.48" stroke-width="1.7"/>
<line x1="381.09" y1="1446.70" x2="396.69" y2="1446.70" stroke="#b54fbe" stroke-opacity="0.48" stroke-width="1.7"/>
<line x1="381.09" y1="1652.60" x2="396.69" y2="1652.60" stroke="#b54fbe" stroke-opacity="0.48" stroke-width="1.7"/>
<line x1="595.07" y1="1524.30" x2="595.07" y2="1585.20" stroke="#b54fbe" stroke-opacity="0.48" stroke-width="1.7"/>
<line x1="587.27" y1="1524.30" x2="602.87" y2="1524.30" stroke="#b54fbe" stroke-opacity="0.48" stroke-width="1.7"/>
<line x1="587.27" y1="1585.20" x2="602.87" y2="1585.20" stroke="#b54fbe" stroke-opacity="0.48" stroke-width="1.7"/>
<line x1="801.25" y1="1564.80" x2="801.25" y2="1611.10" stroke="#b54fbe" stroke-opacity="0.48" stroke-width="1.7"/>
<line x1="793.45" y1="1564.80" x2="809.05" y2="1564.80" stroke="#b54fbe" stroke-opacity="0.48" stroke-width="1.7"/>
<line x1="793.45" y1="1611.10" x2="809.05" y2="1611.10" stroke="#b54fbe" stroke-opacity="0.48" stroke-width="1.7"/>
<line x1="1007.43" y1="1585.80" x2="1007.43" y2="1616.50" stroke="#b54fbe" stroke-opacity="0.48" stroke-width="1.7"/>
<line x1="999.63" y1="1585.80" x2="1015.23" y2="1585.80" stroke="#b54fbe" stroke-opacity="0.48" stroke-width="1.7"/>
<line x1="999.63" y1="1616.50" x2="1015.23" y2="1616.50" stroke="#b54fbe" stroke-opacity="0.48" stroke-width="1.7"/>
<line x1="285.80" y1="1410.40" x2="285.80" y2="1558.20" stroke="#df2a19" stroke-opacity="0.65" stroke-width="1.7"/>
<line x1="278.00" y1="1410.40" x2="293.60" y2="1410.40" stroke="#df2a19" stroke-opacity="0.65" stroke-width="1.7"/>
<line x1="278.00" y1="1558.20" x2="293.60" y2="1558.20" stroke="#df2a19" stroke-opacity="0.65" stroke-width="1.7"/>
<line x1="388.89" y1="1471.80" x2="388.89" y2="1657.30" stroke="#df2a19" stroke-opacity="0.65" stroke-width="1.7"/>
<line x1="381.09" y1="1471.80" x2="396.69" y2="1471.80" stroke="#df2a19" stroke-opacity="0.65" stroke-width="1.7"/>
<line x1="381.09" y1="1657.30" x2="396.69" y2="1657.30" stroke="#df2a19" stroke-opacity="0.65" stroke-width="1.7"/>
<line x1="595.07" y1="1472.00" x2="595.07" y2="1616.60" stroke="#df2a19" stroke-opacity="0.65" stroke-width="1.7"/>
<line x1="587.27" y1="1472.00" x2="602.87" y2="1472.00" stroke="#df2a19" stroke-opacity="0.65" stroke-width="1.7"/>
<line x1="587.27" y1="1616.60" x2="602.87" y2="1616.60" stroke="#df2a19" stroke-opacity="0.65" stroke-width="1.7"/>
<line x1="801.25" y1="1537.10" x2="801.25" y2="1644.20" stroke="#df2a19" stroke-opacity="0.65" stroke-width="1.7"/>
<line x1="793.45" y1="1537.10" x2="809.05" y2="1537.10" stroke="#df2a19" stroke-opacity="0.65" stroke-width="1.7"/>
<line x1="793.45" y1="1644.20" x2="809.05" y2="1644.20" stroke="#df2a19" stroke-opacity="0.65" stroke-width="1.7"/>
<line x1="1316.70" y1="1586.20" x2="1316.70" y2="1660.00" stroke="#df2a19" stroke-opacity="0.65" stroke-width="1.7"/>
<line x1="1308.90" y1="1586.20" x2="1324.50" y2="1586.20" stroke="#df2a19" stroke-opacity="0.65" stroke-width="1.7"/>
<line x1="1308.90" y1="1660.00" x2="1324.50" y2="1660.00" stroke="#df2a19" stroke-opacity="0.65" stroke-width="1.7"/>
<line x1="285.80" y1="1334.00" x2="285.80" y2="1410.30" stroke="#00a4d6" stroke-opacity="0.55" stroke-width="1.7"/>
<line x1="278.00" y1="1334.00" x2="293.60" y2="1334.00" stroke="#00a4d6" stroke-opacity="0.55" stroke-width="1.7"/>
<line x1="278.00" y1="1410.30" x2="293.60" y2="1410.30" stroke="#00a4d6" stroke-opacity="0.55" stroke-width="1.7"/>
<line x1="388.89" y1="1266.00" x2="388.89" y2="1426.00" stroke="#00a4d6" stroke-opacity="0.55" stroke-width="1.7"/>
<line x1="381.09" y1="1266.00" x2="396.69" y2="1266.00" stroke="#00a4d6" stroke-opacity="0.55" stroke-width="1.7"/>
<line x1="381.09" y1="1426.00" x2="396.69" y2="1426.00" stroke="#00a4d6" stroke-opacity="0.55" stroke-width="1.7"/>
<line x1="595.07" y1="1260.60" x2="595.07" y2="1383.40" stroke="#00a4d6" stroke-opacity="0.55" stroke-width="1.7"/>
<line x1="587.27" y1="1383.40" x2="602.87" y2="1383.40" stroke="#00a4d6" stroke-opacity="0.55" stroke-width="1.7"/>
<line x1="801.25" y1="1259.85" x2="801.25" y2="1422.00" stroke="#00a4d6" stroke-opacity="0.55" stroke-width="1.7"/>
<line x1="793.45" y1="1422.00" x2="809.05" y2="1422.00" stroke="#00a4d6" stroke-opacity="0.55" stroke-width="1.7"/>
<line x1="1007.43" y1="1374.20" x2="1007.43" y2="1445.00" stroke="#00a4d6" stroke-opacity="0.55" stroke-width="1.7"/>
<line x1="999.63" y1="1374.20" x2="1015.23" y2="1374.20" stroke="#00a4d6" stroke-opacity="0.55" stroke-width="1.7"/>
<line x1="999.63" y1="1445.00" x2="1015.23" y2="1445.00" stroke="#00a4d6" stroke-opacity="0.55" stroke-width="1.7"/>
<line x1="1316.70" y1="1259.85" x2="1316.70" y2="1445.60" stroke="#00a4d6" stroke-opacity="0.55" stroke-width="1.7"/>
<line x1="1308.90" y1="1445.60" x2="1324.50" y2="1445.60" stroke="#00a4d6" stroke-opacity="0.55" stroke-width="1.7"/>
<line x1="182.71" y1="1393.70" x2="182.71" y2="1535.90" stroke="#141414" stroke-opacity="0.55" stroke-width="1.7"/>
<line x1="174.91" y1="1393.70" x2="190.51" y2="1393.70" stroke="#141414" stroke-opacity="0.55" stroke-width="1.7"/>
<line x1="174.91" y1="1535.90" x2="190.51" y2="1535.90" stroke="#141414" stroke-opacity="0.55" stroke-width="1.7"/>
<line x1="285.80" y1="1500.70" x2="285.80" y2="1591.10" stroke="#141414" stroke-opacity="0.55" stroke-width="1.7"/>
<line x1="278.00" y1="1500.70" x2="293.60" y2="1500.70" stroke="#141414" stroke-opacity="0.55" stroke-width="1.7"/>
<line x1="278.00" y1="1591.10" x2="293.60" y2="1591.10" stroke="#141414" stroke-opacity="0.55" stroke-width="1.7"/>
<line x1="388.89" y1="1495.30" x2="388.89" y2="1646.20" stroke="#141414" stroke-opacity="0.55" stroke-width="1.7"/>
<line x1="381.09" y1="1495.30" x2="396.69" y2="1495.30" stroke="#141414" stroke-opacity="0.55" stroke-width="1.7"/>
<line x1="381.09" y1="1646.20" x2="396.69" y2="1646.20" stroke="#141414" stroke-opacity="0.55" stroke-width="1.7"/>
<line x1="595.07" y1="1259.85" x2="595.07" y2="1545.00" stroke="#141414" stroke-opacity="0.55" stroke-width="1.7"/>
<line x1="587.27" y1="1545.00" x2="602.87" y2="1545.00" stroke="#141414" stroke-opacity="0.55" stroke-width="1.7"/>
<line x1="801.25" y1="1317.00" x2="801.25" y2="1509.40" stroke="#141414" stroke-opacity="0.55" stroke-width="1.7"/>
<line x1="793.45" y1="1317.00" x2="809.05" y2="1317.00" stroke="#141414" stroke-opacity="0.55" stroke-width="1.7"/>
<line x1="793.45" y1="1509.40" x2="809.05" y2="1509.40" stroke="#141414" stroke-opacity="0.55" stroke-width="1.7"/>
<line x1="1007.43" y1="1333.70" x2="1007.43" y2="1535.10" stroke="#141414" stroke-opacity="0.55" stroke-width="1.7"/>
<line x1="999.63" y1="1333.70" x2="1015.23" y2="1333.70" stroke="#141414" stroke-opacity="0.55" stroke-width="1.7"/>
<line x1="999.63" y1="1535.10" x2="1015.23" y2="1535.10" stroke="#141414" stroke-opacity="0.55" stroke-width="1.7"/>
<line x1="1316.70" y1="1470.50" x2="1316.70" y2="1600.50" stroke="#141414" stroke-opacity="0.55" stroke-width="1.7"/>
<line x1="1308.90" y1="1470.50" x2="1324.50" y2="1470.50" stroke="#141414" stroke-opacity="0.55" stroke-width="1.7"/>
<line x1="1308.90" y1="1600.50" x2="1324.50" y2="1600.50" stroke="#141414" stroke-opacity="0.55" stroke-width="1.7"/>
<polyline points="182.71,1457.70 285.80,1467.80 388.89,1549.30 595.07,1555.50 801.25,1560.60 1007.43,1598.80 1316.70,1638.90" fill="none" stroke="#b54fbe" stroke-width="2.0" stroke-linejoin="round"/>
<circle cx="182.71" cy="1457.70" r="10.3" fill="#b54fbe"/>
<circle cx="285.80" cy="1467.80" r="10.3" fill="#b54fbe"/>
<circle cx="388.89" cy="1549.30" r="10.3" fill="#b54fbe"/>
<circle cx="595.07" cy="1555.50" r="10.3" fill="#b54fbe"/>
<circle cx="801.25" cy="1587.50" r="10.3" fill="#b54fbe"/>
<circle cx="1007.43" cy="1598.80" r="10.3" fill="#b54fbe"/>
<circle cx="1316.70" cy="1638.90" r="10.3" fill="#b54fbe"/>
<polyline points="182.71,1464.80 285.80,1545.30 388.89,1571.60 595.07,1393.30 801.25,1413.30 1007.43,1434.80 1316.70,1535.80" fill="none" stroke="#141414" stroke-width="2.0" stroke-linejoin="round"/>
<circle cx="182.71" cy="1464.80" r="10.3" fill="#141414"/>
<circle cx="285.80" cy="1545.30" r="10.3" fill="#141414"/>
<circle cx="388.89" cy="1571.60" r="10.3" fill="#141414"/>
<circle cx="595.07" cy="1393.30" r="10.3" fill="#141414"/>
<circle cx="801.25" cy="1413.30" r="10.3" fill="#141414"/>
<circle cx="1007.43" cy="1434.80" r="10.3" fill="#141414"/>
<circle cx="1316.70" cy="1535.80" r="10.3" fill="#141414"/>
<polyline points="182.71,1492.30 285.80,1372.10 388.89,1284.50 595.07,1322.00 801.25,1320.70 1007.43,1409.20 1316.70,1330.00" fill="none" stroke="#00a4d6" stroke-width="2.0" stroke-linejoin="round"/>
<circle cx="182.71" cy="1492.30" r="10.3" fill="#00a4d6"/>
<circle cx="285.80" cy="1372.10" r="10.3" fill="#00a4d6"/>
<circle cx="388.89" cy="1284.50" r="10.3" fill="#00a4d6"/>
<circle cx="595.07" cy="1322.00" r="10.3" fill="#00a4d6"/>
<circle cx="801.25" cy="1320.70" r="10.3" fill="#00a4d6"/>
<circle cx="1007.43" cy="1409.20" r="10.3" fill="#00a4d6"/>
<circle cx="1316.70" cy="1330.00" r="10.3" fill="#00a4d6"/>
<polyline points="182.71,1577.50 285.80,1484.30 388.89,1564.60 595.07,1544.30 801.25,1590.50 1007.43,1604.90 1316.70,1622.60" fill="none" stroke="#df2a19" stroke-width="2.0" stroke-linejoin="round"/>
<circle cx="182.71" cy="1577.50" r="10.3" fill="#df2a19"/>
<circle cx="285.80" cy="1484.30" r="10.3" fill="#df2a19"/>
<circle cx="388.89" cy="1564.60" r="10.3" fill="#df2a19"/>
<circle cx="595.07" cy="1544.30" r="10.3" fill="#df2a19"/>
<circle cx="801.25" cy="1590.50" r="10.3" fill="#df2a19"/>
<circle cx="1007.43" cy="1604.90" r="10.3" fill="#df2a19"/>
<circle cx="1316.70" cy="1622.60" r="10.3" fill="#df2a19"/>
<g stroke="#111" stroke-width="2.0" fill="none">
<line x1="172.8" y1="22.5" x2="172.8" y2="1672.3"/>
<line x1="1327.2" y1="22.5" x2="1327.2" y2="1672.3"/>
<line x1="172.8" y1="22.5" x2="1327.2" y2="22.5"/>
<line x1="172.8" y1="434.95" x2="1327.2" y2="434.95"/>
<line x1="172.8" y1="847.4" x2="1327.2" y2="847.4"/>
<line x1="172.8" y1="1259.85" x2="1327.2" y2="1259.85"/>
<line x1="172.8" y1="1672.3" x2="1327.2" y2="1672.3"/>
<line x1="157.2" y1="434.95" x2="172.8" y2="434.95"/>
<line x1="157.2" y1="517.44" x2="172.8" y2="517.44"/>
<line x1="157.2" y1="599.93" x2="172.8" y2="599.93"/>
<line x1="157.2" y1="682.42" x2="172.8" y2="682.42"/>
<line x1="157.2" y1="764.91" x2="172.8" y2="764.91"/>
<line x1="157.2" y1="847.40" x2="172.8" y2="847.40"/>
<line x1="157.2" y1="1259.85" x2="172.8" y2="1259.85"/>
<line x1="157.2" y1="1362.96" x2="172.8" y2="1362.96"/>
<line x1="157.2" y1="1466.07" x2="172.8" y2="1466.07"/>
<line x1="157.2" y1="1569.19" x2="172.8" y2="1569.19"/>
<line x1="157.2" y1="1672.30" x2="172.8" y2="1672.30"/>
<line x1="1327.2" y1="22.50" x2="1342.6" y2="22.50"/>
<line x1="1327.2" y1="125.61" x2="1342.6" y2="125.61"/>
<line x1="1327.2" y1="228.72" x2="1342.6" y2="228.72"/>
<line x1="1327.2" y1="331.84" x2="1342.6" y2="331.84"/>
<line x1="1327.2" y1="434.95" x2="1342.6" y2="434.95"/>
<line x1="1327.2" y1="847.40" x2="1342.6" y2="847.40"/>
<line x1="1327.2" y1="984.88" x2="1342.6" y2="984.88"/>
<line x1="1327.2" y1="1122.37" x2="1342.6" y2="1122.37"/>
<line x1="1327.2" y1="1259.85" x2="1342.6" y2="1259.85"/>
<line x1="182.71" y1="1672.3" x2="182.71" y2="1687.8"/>
<line x1="285.80" y1="1672.3" x2="285.80" y2="1687.8"/>
<line x1="388.89" y1="1672.3" x2="388.89" y2="1687.8"/>
<line x1="491.98" y1="1672.3" x2="491.98" y2="1687.8"/>
<line x1="595.07" y1="1672.3" x2="595.07" y2="1687.8"/>
<line x1="698.16" y1="1672.3" x2="698.16" y2="1687.8"/>
<line x1="801.25" y1="1672.3" x2="801.25" y2="1687.8"/>
<line x1="904.34" y1="1672.3" x2="904.34" y2="1687.8"/>
<line x1="1007.43" y1="1672.3" x2="1007.43" y2="1687.8"/>
<line x1="1110.52" y1="1672.3" x2="1110.52" y2="1687.8"/>
<line x1="1213.61" y1="1672.3" x2="1213.61" y2="1687.8"/>
<line x1="1316.70" y1="1672.3" x2="1316.70" y2="1687.8"/>
</g>
<text x="150.2" y="444.55" font-family="Liberation Sans, sans-serif" font-size="36" text-anchor="end">35</text>
<text x="150.2" y="527.04" font-family="Liberation Sans, sans-serif" font-size="36" text-anchor="end">30</text>
<text x="150.2" y="609.53" font-family="Liberation Sans, sans-serif" font-size="36" text-anchor="end">25</text>
<text x="150.2" y="692.02" font-family="Liberation Sans, sans-serif" font-size="36" text-anchor="end">20</text>
<text x="150.2" y="774.51" font-family="Liberation Sans, sans-serif" font-size="36" text-anchor="end">15</text>
<text x="150.2" y="857.00" font-family="Liberation Sans, sans-serif" font-size="36" text-anchor="end">10</text>
<text x="150.2" y="1269.75" font-family="Liberation Sans, sans-serif" font-size="36" text-anchor="end" fill="#000">16.10<tspan font-size="20.5" dy="-13.7">3</tspan></text>
<text x="150.2" y="1374.46" font-family="Liberation Sans, sans-serif" font-size="36" text-anchor="end" fill="#000">12.10<tspan font-size="20.5" dy="-13.7">3</tspan></text>
<text x="150.2" y="1479.07" font-family="Liberation Sans, sans-serif" font-size="36" text-anchor="end" fill="#000">8.10<tspan font-size="20.5" dy="-13.7">3</tspan></text>
<text x="150.2" y="1582.89" font-family="Liberation Sans, sans-serif" font-size="36" text-anchor="end" fill="#000">4.10<tspan font-size="20.5" dy="-13.7">3</tspan></text>
<text x="150.6" y="1685.0" font-family="Liberation Sans, sans-serif" font-size="39.3" text-anchor="end">0</text>
<text x="1348.5" y="32.30" font-family="Liberation Sans, sans-serif" font-size="36" text-anchor="start" fill="#000">8.10<tspan font-size="20.5" dy="-13.7">3</tspan></text>
<text x="1348.5" y="136.51" font-family="Liberation Sans, sans-serif" font-size="36" text-anchor="start" fill="#000">6.10<tspan font-size="20.5" dy="-13.7">3</tspan></text>
<text x="1348.5" y="241.12" font-family="Liberation Sans, sans-serif" font-size="36" text-anchor="start" fill="#000">4.10<tspan font-size="20.5" dy="-13.7">3</tspan></text>
<text x="1348.5" y="345.54" font-family="Liberation Sans, sans-serif" font-size="36" text-anchor="start" fill="#000">2.10<tspan font-size="20.5" dy="-13.7">3</tspan></text>
<text x="1348.5" y="444.35" font-family="Liberation Sans, sans-serif" font-size="36">0</text>
<text x="1348.5" y="857.50" font-family="Liberation Sans, sans-serif" font-size="36" text-anchor="start" fill="#000">12.10<tspan font-size="20.5" dy="-13.7">3</tspan></text>
<text x="1348.5" y="995.78" font-family="Liberation Sans, sans-serif" font-size="36" text-anchor="start" fill="#000">8.10<tspan font-size="20.5" dy="-13.7">3</tspan></text>
<text x="1348.5" y="1135.57" font-family="Liberation Sans, sans-serif" font-size="36" text-anchor="start" fill="#000">4.10<tspan font-size="20.5" dy="-13.7">3</tspan></text>
<text x="1348.5" y="1269.25" font-family="Liberation Sans, sans-serif" font-size="36">0</text>
<text x="182.71" y="1721.7" font-family="Liberation Sans, sans-serif" font-size="36" text-anchor="middle">-1</text>
<text x="285.80" y="1721.7" font-family="Liberation Sans, sans-serif" font-size="36" text-anchor="middle">0</text>
<text x="388.89" y="1721.7" font-family="Liberation Sans, sans-serif" font-size="36" text-anchor="middle">1</text>
<text x="491.98" y="1721.7" font-family="Liberation Sans, sans-serif" font-size="36" text-anchor="middle">2</text>
<text x="595.07" y="1721.7" font-family="Liberation Sans, sans-serif" font-size="36" text-anchor="middle">3</text>
<text x="698.16" y="1721.7" font-family="Liberation Sans, sans-serif" font-size="36" text-anchor="middle">4</text>
<text x="801.25" y="1721.7" font-family="Liberation Sans, sans-serif" font-size="36" text-anchor="middle">5</text>
<text x="904.34" y="1721.7" font-family="Liberation Sans, sans-serif" font-size="36" text-anchor="middle">6</text>
<text x="1007.43" y="1721.7" font-family="Liberation Sans, sans-serif" font-size="36" text-anchor="middle">7</text>
<text x="1110.52" y="1721.7" font-family="Liberation Sans, sans-serif" font-size="36" text-anchor="middle">8</text>
<text x="1213.61" y="1721.7" font-family="Liberation Sans, sans-serif" font-size="36" text-anchor="middle">9</text>
<text x="1316.70" y="1721.7" font-family="Liberation Sans, sans-serif" font-size="36" text-anchor="middle">10</text>
<text x="750.5" y="1757.7" font-family="Liberation Sans, sans-serif" font-size="36" text-anchor="middle">Days</text>
<text x="791" y="61.2" font-family="Liberation Sans, sans-serif" font-size="36" font-style="italic" text-anchor="middle">E. huxleyi</text>
<text x="791" y="885.9" font-family="Liberation Sans, sans-serif" font-size="36" font-style="italic" text-anchor="middle">R. clavigera</text>
<text x="790" y="1298.6" font-family="Liberation Sans, sans-serif" font-size="36" text-anchor="middle">Total</text>
<text transform="translate(1466.2,227.75) rotate(90)" font-family="Liberation Sans, sans-serif" font-size="36.4" text-anchor="middle">Abundances [cells.L<tspan font-size="21" dy="-13.5">-1</tspan><tspan dy="13.5">]</tspan></text>
<text transform="translate(1466.2,1052.9) rotate(90)" font-family="Liberation Sans, sans-serif" font-size="36.4" text-anchor="middle">Abundances [cells.L<tspan font-size="21" dy="-13.5">-1</tspan><tspan dy="13.5">]</tspan></text>
<text transform="translate(33.6,1467.3) rotate(-90)" font-family="Liberation Sans, sans-serif" font-size="36.4" text-anchor="middle">Abundances [cells.L<tspan font-size="21" dy="-13.5">-1</tspan><tspan dy="13.5">]</tspan></text>
<text transform="translate(33.6,640.7) rotate(-90)" font-family="Liberation Sans, sans-serif" font-size="36.4" text-anchor="middle"><tspan font-style="italic">E. huxleyi</tspan> coccosphere</text>
<text transform="translate(77.2,640.7) rotate(-90)" font-family="Liberation Sans, sans-serif" font-size="36.4" text-anchor="middle">mass (pg)</text>
<line x1="182.71" y1="1812.0" x2="285.80" y2="1812.0" stroke="#141414" stroke-width="1.8"/>
<circle cx="234.25" cy="1812.0" r="10.3" fill="#141414"/>
<text x="295.30" y="1824.8" font-family="Liberation Sans, sans-serif" font-size="36">C</text>
<line x1="388.89" y1="1812.0" x2="491.98" y2="1812.0" stroke="#00a4d6" stroke-width="1.8"/>
<circle cx="440.44" cy="1812.0" r="10.3" fill="#00a4d6"/>
<text x="501.48" y="1824.8" font-family="Liberation Sans, sans-serif" font-size="36">OA</text>
<line x1="595.07" y1="1812.0" x2="698.16" y2="1812.0" stroke="#df2a19" stroke-width="1.8"/>
<circle cx="646.62" cy="1812.0" r="10.3" fill="#df2a19"/>
<text x="707.66" y="1824.8" font-family="Liberation Sans, sans-serif" font-size="36">OW</text>
<line x1="801.25" y1="1812.0" x2="904.34" y2="1812.0" stroke="#b54fbe" stroke-width="1.8"/>
<circle cx="852.79" cy="1812.0" r="10.3" fill="#b54fbe"/>
<text x="913.84" y="1824.8" font-family="Liberation Sans, sans-serif" font-size="36">GH</text>
<rect x="1007.3" y="1801.7" width="103.5" height="20.2" fill="#ebebeb"/>
<text x="1119.5" y="1824.8" font-family="Liberation Sans, sans-serif" font-size="36">Acclimation</text>
</svg>
</body></html>
